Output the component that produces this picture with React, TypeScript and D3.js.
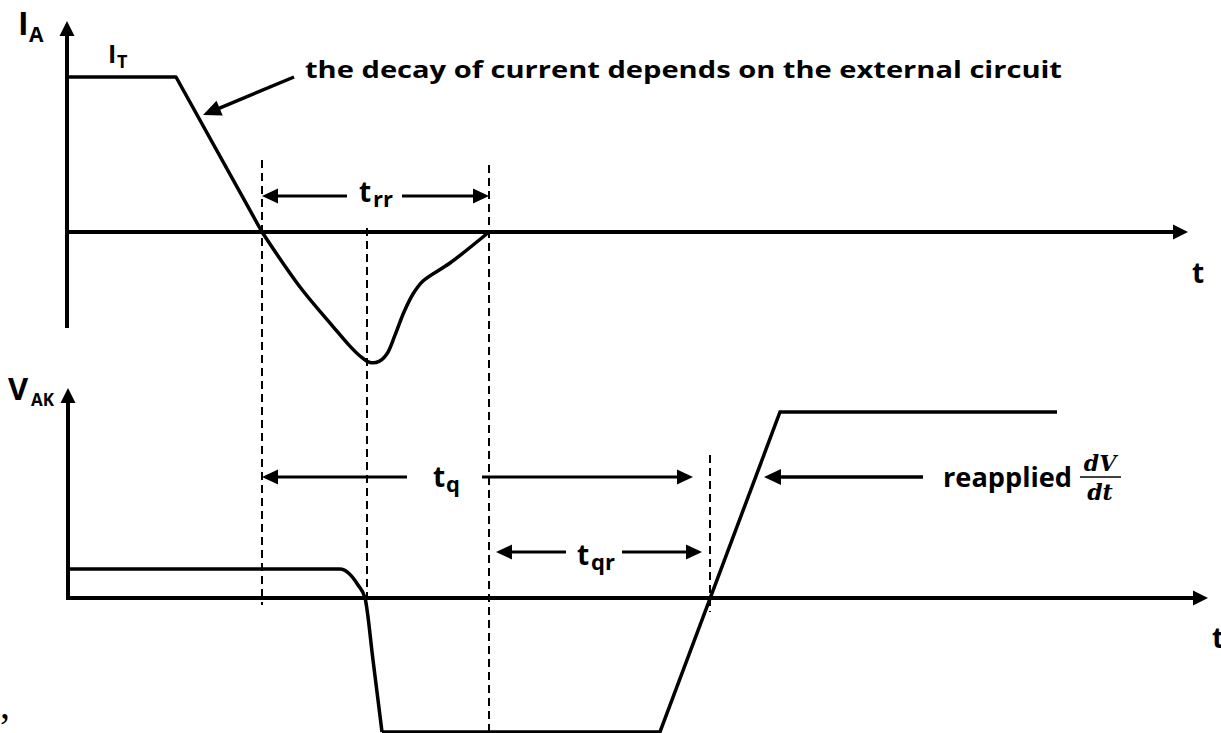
import React from "react";
import * as d3 from "d3";

// ---- data (time in arbitrary units, current/voltage normalised) ----
const decayT = [0, 109, 195];
const decayI = [1, 1, 0];
const recoveryT = [195, 233, 266, 282, 293, 303, 312, 320, 328, 337, 346, 356, 383, 422];
const recoveryI = [0, -0.355, -0.61, -0.73, -0.8, -0.842, -0.835, -0.785, -0.665, -0.516, -0.4, -0.316, -0.2, 0];
const fallT = [0, 273, 291, 298, 306, 315];
const fallV = [0.156, 0.156, 0.07, 0, -0.333, -0.72];
const riseT = [315, 593, 713, 990];
const riseV = [-0.72, -0.72, 1, 1];
const markerT = [195, 300, 422, 643];
const intervalSub = ["rr", "q", "qr"];
const intervalStart = [195, 195, 429];
const intervalEnd = [422, 626, 635];

const W = 1221;
const H = 733;
const FONT = "'Open Sans', 'Liberation Sans', sans-serif";

export default function App() {
  const x = d3.scaleLinear().domain([0, 1150]).range([67, 1217]);
  const yI = d3.scaleLinear().domain([-1, 1]).range([387, 77]);
  const yV = d3.scaleLinear().domain([-1, 1]).range([784, 412]);

  const lineI = d3.line<number>().x((d, i) => x(decayT[i])).y((d) => yI(d));
  const recI = d3
    .line<number>()
    .x((d, i) => x(recoveryT[i]))
    .y((d) => yI(d))
    .curve(d3.curveCatmullRom.alpha(0.5));
  const fallLine = d3
    .line<number>()
    .x((d, i) => x(fallT[i]))
    .y((d) => yV(d))
    .curve(d3.curveMonotoneX);
  const riseLine = d3.line<number>().x((d, i) => x(riseT[i])).y((d) => yV(d));

  // layout for markers / intervals
  const markerY0 = [160, 228, 165, 455];
  const markerY1 = [605, 596, 733, 612];
  const intervalY = [196, 477, 552];
  const gapL = [347, 407, 566];
  const gapR = [402, 482, 622];

  const head = (tx: number, ty: number, dir: number, len = 16, hw = 7.5) =>
    `M${tx},${ty} L${tx - dir * len},${ty - hw} L${tx - dir * len},${ty + hw} Z`;

  // decay annotation arrow
  const aTail = [294, 77];
  const aTip = [203, 115];
  const ang = Math.atan2(aTip[1] - aTail[1], aTip[0] - aTail[0]);
  const hl = 18,
    hw = 8;
  const bx = aTip[0] - hl * Math.cos(ang);
  const by = aTip[1] - hl * Math.sin(ang);
  const annHead = `M${aTip[0]},${aTip[1]} L${bx + hw * Math.sin(ang)},${by - hw * Math.cos(ang)} L${bx - hw * Math.sin(ang)},${by + hw * Math.cos(ang)} Z`;

  const zeroI = yI(0);
  const zeroV = yV(0);

  return (
    <svg
      width={W}
      height={H}
      style={{ position: "fixed", left: 0, top: 0, background: "#fff" }}
      fontFamily={FONT}
    >
      <rect width={W} height={H} fill="#fff" />
      {/* dashed markers */}
      {markerT.map((t, i) => (
        <line
          key={"m" + i}
          x1={x(t)}
          x2={x(t)}
          y1={markerY0[i]}
          y2={markerY1[i]}
          stroke="#000"
          strokeWidth={2}
          strokeDasharray="8,5"
        />
      ))}

      {/* top axes */}
      <line x1={x(0)} x2={x(0)} y1={yI(-0.62)} y2={yI(1.27)} stroke="#000" strokeWidth={4} />
      <path d={`M${x(0)},${yI(1.362)} L${x(0) - 7.5},${yI(1.362) + 15} L${x(0) + 7.5},${yI(1.362) + 15} Z`} fill="#000" />
      <line x1={x(0)} x2={1174} y1={zeroI} y2={zeroI} stroke="#000" strokeWidth={4} />
      <path d={head(1188, zeroI, 1, 15, 7.5)} fill="#000" />

      {/* bottom axes */}
      <line x1={x(1)} x2={x(1)} y1={zeroV} y2={yV(1.05)} stroke="#000" strokeWidth={4} strokeLinecap="square" />
      <path d={`M${x(1)},${yV(1.129)} L${x(1) - 7.5},${yV(1.129) + 15} L${x(1) + 7.5},${yV(1.129) + 15} Z`} fill="#000" />
      <line x1={x(1)} x2={1195} y1={zeroV} y2={zeroV} stroke="#000" strokeWidth={4} />
      <path d={head(1208, zeroV, 1, 15, 7.5)} fill="#000" />

      {/* current waveform */}
      <path d={lineI(decayI) || ""} fill="none" stroke="#000" strokeWidth={3.5} strokeLinejoin="round" />
      <path d={recI(recoveryI) || ""} fill="none" stroke="#000" strokeWidth={3.5} strokeLinejoin="round" />

      {/* voltage waveform */}
      <path d={fallLine(fallV) || ""} fill="none" stroke="#000" strokeWidth={3.5} strokeLinejoin="round" />
      <path d={riseLine(riseV) || ""} fill="none" stroke="#000" strokeWidth={3.5} strokeLinejoin="miter" />

      {/* interval arrows */}
      {intervalSub.map((s, i) => {
        const xa = x(intervalStart[i]);
        const xb = x(intervalEnd[i]);
        const y = intervalY[i];
        return (
          <g key={"iv" + i}>
            <line x1={xa + 10} x2={gapL[i]} y1={y} y2={y} stroke="#000" strokeWidth={3} />
            <line x1={gapR[i]} x2={xb - 10} y1={y} y2={y} stroke="#000" strokeWidth={3} />
            <path d={head(xa, y, -1)} fill="#000" />
            <path d={head(xb, y, 1)} fill="#000" />
          </g>
        );
      })}

      {/* interval labels */}
      <text x={359} y={202} fontSize={28} fontWeight={700}>t</text>
      <text x={373} y={207} fontSize={22} fontWeight={700}>{intervalSub[0]}</text>
      <text x={433} y={487} fontSize={28} fontWeight={700}>t</text>
      <text x={446} y={492} fontSize={22} fontWeight={700}>{intervalSub[1]}</text>
      <text x={577} y={565} fontSize={28} fontWeight={700}>t</text>
      <text x={591} y={570} fontSize={22} fontWeight={700}>{intervalSub[2]}</text>

      {/* axis labels */}
      <text x={18} y={35} fontSize={32} fontWeight={700}>I</text>
      <text x={29} y={42} fontSize={21} fontWeight={700}>A</text>
      <text x={108} y={63} fontSize={25} fontWeight={700}>I</text>
      <text x={117} y={68} fontSize={18} fontWeight={700}>T</text>
      <text x={8} y={400} fontSize={31} fontWeight={700}>V</text>
      <text x={31} y={406} fontSize={17} fontWeight={700}>AK</text>
      <text x={1192} y={283} fontSize={28} fontWeight={700}>t</text>
      <text x={1212} y={648} fontSize={28} fontWeight={700}>t</text>

      {/* decay annotation */}
      <line x1={aTail[0]} y1={aTail[1]} x2={bx + 2 * Math.cos(ang)} y2={by + 2 * Math.sin(ang)} stroke="#000" strokeWidth={3.5} />
      <path d={annHead} fill="#000" />
      <text x={305} y={78} fontSize={24} fontWeight={700} textLength={757} lengthAdjust="spacingAndGlyphs">
        the decay of current depends on the external circuit
      </text>

      {/* reapplied dV/dt annotation */}
      <line x1={923} x2={778} y1={477} y2={477} stroke="#000" strokeWidth={3.5} />
      <path d={head(764, 477, -1, 17, 8)} fill="#000" />
      <text x={943} y={487} fontSize={26} fontWeight={700} textLength={129} lengthAdjust="spacingAndGlyphs">
        reapplied
      </text>
      <text x={1100} y={471} fontSize={22} fontStyle="italic" fontWeight={700} textAnchor="middle" fontFamily="'DejaVu Serif', serif">
        dV
      </text>
      <line x1={1080} x2={1121} y1={477} y2={477} stroke="#000" strokeWidth={1.5} />
      <text x={1100} y={500} fontSize={22} fontStyle="italic" fontWeight={700} textAnchor="middle" fontFamily="'DejaVu Serif', serif">
        dt
      </text>

      {/* stray mark at bottom-left */}
      <text x={0} y={718} fontSize={40} fontFamily="'Liberation Serif', serif">,</text>
    </svg>
  );
}
